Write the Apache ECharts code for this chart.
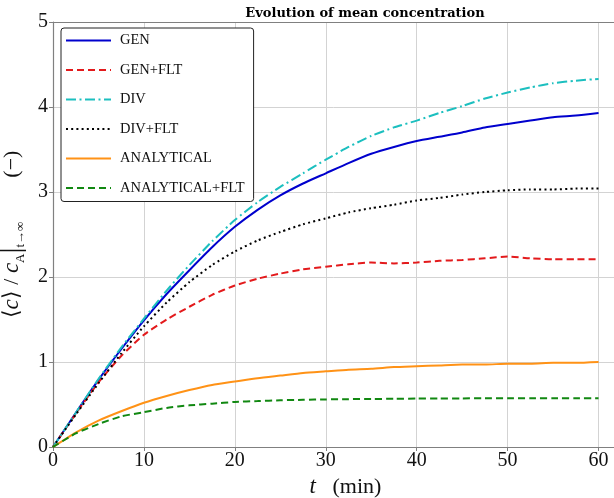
<!DOCTYPE html>
<html>
<head>
<meta charset="utf-8">
<script src="https://cdn.jsdelivr.net/npm/echarts@6/dist/echarts.min.js"></script>
<style>html,body{margin:0;padding:0;background:#fff}#c{width:614px;height:498px}</style>
</head>
<body>
<div id="c"></div>
<script>
const tMin = [0,2.5,5,7.5,10,12.5,15,17.5,20,22.5,25,27.5,30,32.5,35,37.5,40,42.5,45,47.5,50,52.5,55,57.5,60];
const gen = [0,0.40,0.79,1.15,1.49,1.80,2.08,2.35,2.59,2.79,2.96,3.10,3.22,3.34,3.45,3.53,3.60,3.65,3.70,3.76,3.80,3.84,3.88,3.90,3.93];
const genFlt = [0,0.39,0.76,1.07,1.32,1.50,1.65,1.79,1.90,1.98,2.04,2.09,2.12,2.15,2.17,2.16,2.17,2.19,2.20,2.22,2.24,2.22,2.21,2.21,2.21];
const div = [0,0.40,0.80,1.17,1.51,1.84,2.14,2.42,2.67,2.88,3.06,3.22,3.38,3.53,3.66,3.76,3.84,3.93,4.01,4.10,4.17,4.23,4.28,4.31,4.33];
const divFlt = [0,0.38,0.75,1.10,1.42,1.70,1.94,2.14,2.30,2.43,2.53,2.62,2.69,2.76,2.81,2.85,2.90,2.93,2.97,3.00,3.02,3.03,3.03,3.04,3.04];
const analytical = [0,0.17,0.31,0.42,0.52,0.60,0.67,0.73,0.77,0.81,0.84,0.87,0.89,0.91,0.92,0.94,0.95,0.96,0.97,0.97,0.98,0.98,0.99,0.99,1.00];
const analyticalFlt = [0,0.16,0.27,0.36,0.41,0.46,0.49,0.51,0.53,0.54,0.55,0.555,0.56,0.563,0.565,0.567,0.57,0.571,0.572,0.573,0.574,0.574,0.575,0.575,0.575];
const xTicks = [0,10,20,30,40,50,60];
const yTicks = [0,1,2,3,4,5];

const pair = arr => tMin.map((t,i)=>[t,arr[i]]);
const serif = 'Liberation Serif';

const seriesDefs = [
  {name:'GEN', data:gen, color:'#0000cd', type:'solid'},
  {name:'GEN+FLT', data:genFlt, color:'#e31a1c', type:[7,4]},
  {name:'DIV', data:div, color:'#1cbfbf', type:[10,3.5,2,3.5]},
  {name:'DIV+FLT', data:divFlt, color:'#000000', type:[2,3.2]},
  {name:'ANALYTICAL', data:analytical, color:'#ff9216', type:'solid'},
  {name:'ANALYTICAL+FLT', data:analyticalFlt, color:'#118811', type:[7,4]}
];

const chart = echarts.init(document.getElementById('c'), null, {renderer:'canvas'});
chart.setOption({
  animation:false,
  backgroundColor:'#fff',
  title:{
    text:'Evolution of mean concentration',
    left:360, top:2, textAlign:'center',
    textStyle:{fontFamily:'DejaVu Serif', fontWeight:'bold', fontSize:13, color:'#000'}
  },
  legend:{
    orient:'vertical', left:61, top:28,
    itemWidth:45, itemHeight:14, itemGap:14.5,
    padding:[5,9,6,4],
    backgroundColor:'#fff', borderColor:'#222', borderWidth:1, borderRadius:3,
    itemStyle:{opacity:0},
    textStyle:{fontFamily:serif, fontSize:14.5, color:'#111', padding:[0,0,0,4]},
    data:seriesDefs.map(s=>s.name)
  },
  grid:{left:53, right:0, top:22, bottom:51, containLabel:false, outerBoundsMode:'none'},
  xAxis:[{
    type:'value', min:0, max:61.7, interval:10,
    axisLine:{show:true, onZero:false, lineStyle:{color:'#808080', width:1.2}},
    axisTick:{show:true, inside:false, length:4, lineStyle:{color:'#808080'}},
    axisLabel:{fontFamily:serif, fontSize:20, color:'#111', margin:4,
      formatter:v=> (xTicks.indexOf(v)>=0 ? String(v) : '')},
    splitLine:{show:true, lineStyle:{color:'#d3d3d3', width:1}},
    name:'{i|t}   (min)', nameLocation:'middle', nameGap:25,
    nameTextStyle:{fontFamily:serif, fontSize:22, color:'#111', padding:[0,0,0,24],
      rich:{i:{fontFamily:serif, fontStyle:'italic', fontSize:23, color:'#111'}}}
  },{
    type:'value', position:'top', min:0, max:61.7,
    axisLine:{show:true, onZero:false, lineStyle:{color:'#808080', width:1.2}},
    axisTick:{show:false}, axisLabel:{show:false}, splitLine:{show:false}
  }],
  yAxis:{
    type:'value', min:0, max:5, interval:1,
    axisLine:{show:true, lineStyle:{color:'#808080', width:1.2}},
    axisTick:{show:true, length:4, lineStyle:{color:'#808080'}},
    axisLabel:{fontFamily:serif, fontSize:20, color:'#111', margin:5,
      formatter:v=> (yTicks.indexOf(v)>=0 ? String(v) : '')},
    splitLine:{show:true, lineStyle:{color:'#d3d3d3', width:1}},
    name:'⟨{i|c}⟩ / {i|c}{s|A}{b||}{s|t→∞}        (−)',
    nameLocation:'middle', nameGap:26, nameRotate:90,
    nameTextStyle:{fontFamily:serif, fontSize:22, color:'#111',
      rich:{
        i:{fontFamily:serif, fontStyle:'italic', fontSize:23, color:'#111'},
        s:{fontFamily:serif, fontSize:13, color:'#111', verticalAlign:'bottom', padding:[14,0,0,0]},
        b:{fontFamily:serif, fontSize:30, color:'#111'}
      }}
  },
  series:seriesDefs.map(s=>({
    name:s.name, type:'line', xAxisIndex:0, data:pair(s.data),
    showSymbol:false, symbol:'none', smooth:0.2,
    lineStyle:{color:s.color, width:2, type:s.type},
    itemStyle:{color:s.color}
  }))
});
</script>
</body>
</html>
